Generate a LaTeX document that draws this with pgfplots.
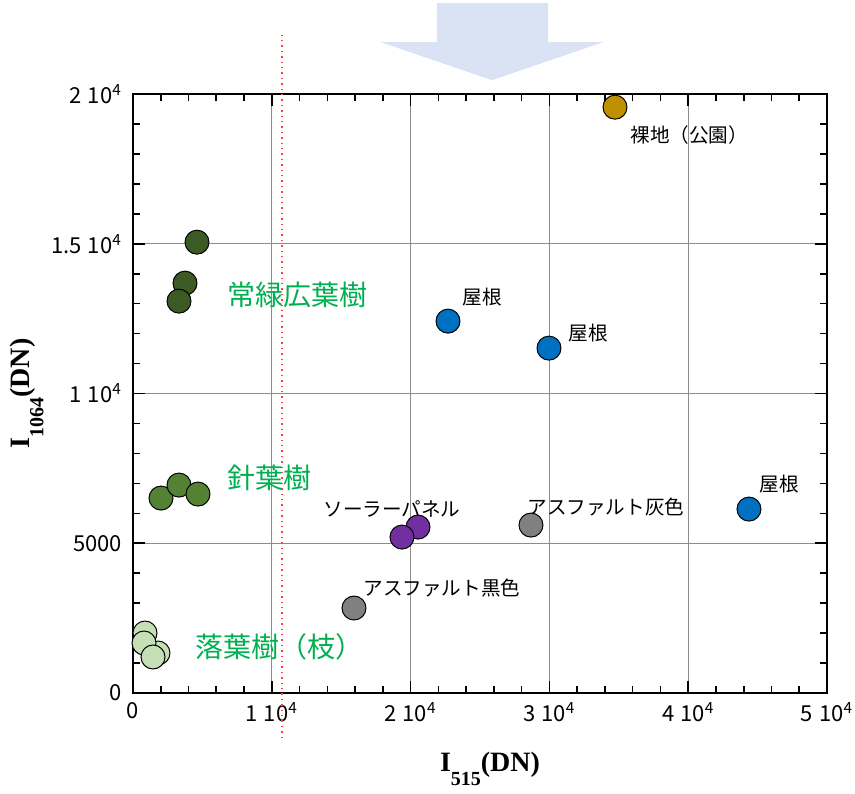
\documentclass[border=0pt]{standalone}
\usepackage{pgfplots}
\pgfplotsset{compat=1.18}
\usepackage{fontspec}
\setmainfont{Noto Sans CJK JP}
\newfontfamily\serifbold{Liberation Serif}[BoldFont={Liberation Serif Bold}]

\definecolor{evergreen}{HTML}{3B5A24}
\definecolor{conifer}{HTML}{548235}
\definecolor{deciduous}{HTML}{C5E0B4}
\definecolor{solar}{HTML}{7030A0}
\definecolor{asphalt}{HTML}{808080}
\definecolor{roof}{HTML}{0070C0}
\definecolor{bare}{HTML}{BF9000}
\definecolor{grouptext}{HTML}{00B050}
\definecolor{arrowfill}{HTML}{DAE3F3}

\begin{document}
\begin{tikzpicture}
\begin{axis}[
  name=ax,
  scale only axis,
  width=347pt, height=299.5pt,
  xmin=0, xmax=50000, ymin=0, ymax=20000,
  scaled ticks=false,
  clip=false,
  axis line style={line width=1pt},
  xtick={0,10000,20000,30000,40000,50000},
  xticklabels={0,{1\;10\textsuperscript{4}},{2\;10\textsuperscript{4}},{3\;10\textsuperscript{4}},{4\;10\textsuperscript{4}},{5\;10\textsuperscript{4}}},
  ytick={0,5000,10000,15000,20000},
  yticklabels={0,5000,{1\;10\textsuperscript{4}},{1.5\;10\textsuperscript{4}},{2\;10\textsuperscript{4}}},
  minor tick num=4,
  tick align=inside,
  major tick length=6pt,
  minor tick length=3.5pt,
  tick style={line width=0.8pt, black},
  grid=major,
  major grid style={gray!90, line width=0.55pt},
  ticklabel style={font=\fontsize{11}{13}\selectfont},
  xticklabel style={yshift=-1pt},
  yticklabel style={xshift=-2pt},
  xlabel={\serifbold\bfseries I\raisebox{-1.1ex}{\fontsize{10}{11}\selectfont 515}(DN)},
  ylabel={\serifbold\bfseries I\raisebox{-1.1ex}{\fontsize{10}{11}\selectfont 1064}(DN)},
  label style={font=\fontsize{14}{16}\selectfont},
  xlabel style={yshift=-8.5pt, xshift=5pt},
  ylabel style={yshift=-3pt},
  every axis plot/.append style={only marks, mark=*, mark size=6pt},
]

% guide arrow above the plot
\fill[arrowfill] (axis cs:21900,23031) -- (axis cs:29900,23031) -- (axis cs:29900,21729)
  -- (axis cs:33862,21729) -- (axis cs:25865,20461) -- (axis cs:17867,21729)
  -- (axis cs:21900,21729) -- cycle;

% threshold line
\draw[red!75, dotted, line width=0.7pt] (axis cs:10735,-1500) -- (axis cs:10735,22030);

% deciduous trees (branches)
\addplot[mark options={fill=deciduous, draw=black, line width=0.5pt}] coordinates {
  (1800,1335) (865,2003) (793,1669) (1441,1202)
};
% conifers
\addplot[mark options={fill=conifer, draw=black, line width=0.5pt}] coordinates {
  (2017,6509) (3314,6943) (4683,6642)
};
% broadleaf evergreens
\addplot[mark options={fill=evergreen, draw=black, line width=0.5pt}] coordinates {
  (4611,15053) (3746,13685) (3314,13084)
};
% asphalt
\addplot[mark options={fill=asphalt, draw=black, line width=0.5pt}] coordinates {
  (15922,2837) (28674,5607)
};
% solar panels
\addplot[mark options={fill=solar, draw=black, line width=0.5pt}] coordinates {
  (20533,5541) (19380,5207)
};
% roofs
\addplot[mark options={fill=roof, draw=black, line width=0.5pt}] coordinates {
  (22695,12417) (29971,11515) (44380,6141)
};
% bare ground (park)
\addplot[mark options={fill=bare, draw=black, line width=0.5pt}] coordinates {
  (34726,19560)
};

% group labels
\begin{scope}[every node/.style={anchor=west, inner sep=0pt, text=grouptext, font=\fontsize{14}{16}\selectfont}]
\node at (axis cs:6773,13289) {常緑広葉樹};
\node at (axis cs:6773,7179) {針葉樹};
\node at (axis cs:4467,1536) {落葉樹（枝）};
\end{scope}

% point labels
\begin{scope}[every node/.style={anchor=west, inner sep=0pt, font=\fontsize{9.8}{11}\selectfont}]
\node at (axis cs:35809,18632) {裸地（公園）};
\node at (axis cs:23704,13222) {屋根};
\node at (axis cs:31342,12020) {屋根};
\node at (axis cs:45103,6979) {屋根};
\node at (axis cs:13690,6144) {ソーラーパネル};
\node at (axis cs:28388,6211) {アスファルト灰色};
\node at (axis cs:16572,3506) {アスファルト黒色};
\end{scope}
\end{axis}
\pgfresetboundingbox
\path ([shift={(-66.5pt,-50pt)}]ax.south west) rectangle ([shift={(14pt,47pt)}]ax.north east);
\end{tikzpicture}
\end{document}
